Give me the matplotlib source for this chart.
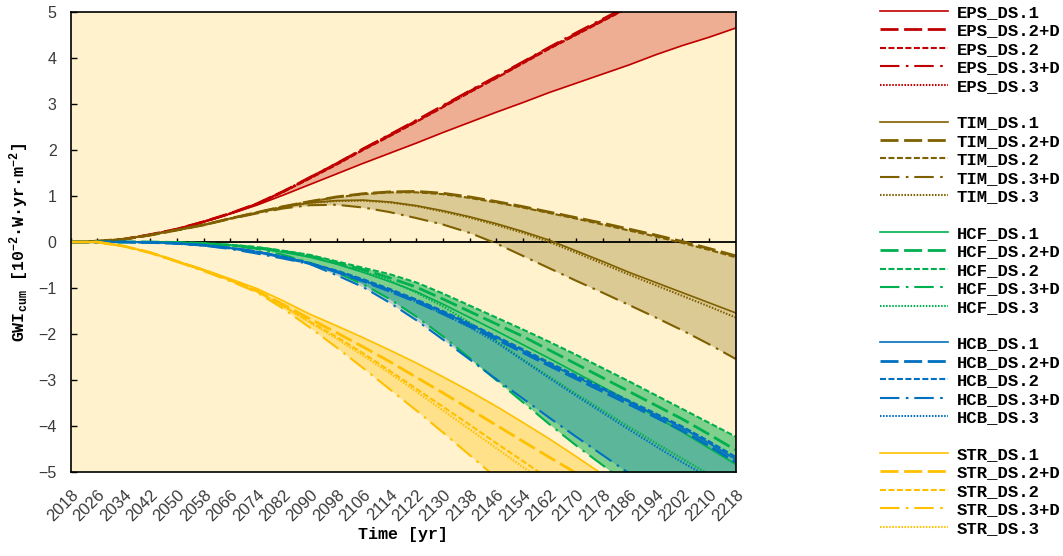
import numpy as np
import matplotlib
matplotlib.use('Agg')
import matplotlib.pyplot as plt
from matplotlib.lines import Line2D
from matplotlib.font_manager import FontProperties

plt.rcParams['lines.scale_dashes'] = False
plt.rcParams['mathtext.fontset'] = 'custom'
plt.rcParams['mathtext.rm'] = 'Liberation Mono:bold'
plt.rcParams['mathtext.it'] = 'Liberation Mono:bold'
plt.rcParams['mathtext.bf'] = 'Liberation Mono:bold'

# ---------------- data ----------------
years = [2018, 2026, 2034, 2042, 2050, 2058, 2066, 2074, 2082, 2090, 2098, 2106, 2114,
         2122, 2130, 2138, 2146, 2154, 2162, 2170, 2178, 2186, 2194, 2202, 2210, 2218]

variants = ['DS.1', 'DS.2+D', 'DS.2', 'DS.3+D', 'DS.3']

eps_ds1  = [0, 0, 0.06, 0.16, 0.28, 0.43, 0.61, 0.80, 1.02, 1.25, 1.48, 1.71, 1.93, 2.15, 2.38, 2.60, 2.82, 3.03, 3.25, 3.45, 3.65, 3.85, 4.07, 4.27, 4.45, 4.65]
eps_ds2d = [0, 0, 0.06, 0.16, 0.28, 0.44, 0.62, 0.83, 1.10, 1.40, 1.70, 2.02, 2.32, 2.63, 2.95, 3.27, 3.58, 3.90, 4.22, 4.52, 4.82, 5.12, 5.42, 5.72, 6.02, 6.30]
eps_ds2  = [0, 0, 0.06, 0.16, 0.28, 0.44, 0.62, 0.82, 1.09, 1.38, 1.68, 2.00, 2.30, 2.61, 2.93, 3.25, 3.56, 3.88, 4.20, 4.50, 4.80, 5.10, 5.40, 5.70, 6.00, 6.28]
eps_ds3d = [0, 0, 0.06, 0.16, 0.28, 0.44, 0.62, 0.83, 1.10, 1.41, 1.71, 2.03, 2.34, 2.65, 2.97, 3.29, 3.60, 3.92, 4.24, 4.55, 4.85, 5.15, 5.45, 5.75, 6.05, 6.33]
eps_ds3  = [0, 0, 0.06, 0.16, 0.28, 0.44, 0.62, 0.82, 1.09, 1.39, 1.69, 2.01, 2.31, 2.62, 2.94, 3.26, 3.57, 3.89, 4.21, 4.51, 4.81, 5.11, 5.41, 5.71, 6.01, 6.29]

tim_ds1  = [0, 0.02, 0.06, 0.15, 0.26, 0.37, 0.51, 0.64, 0.76, 0.85, 0.90, 0.91, 0.87, 0.79, 0.68, 0.55, 0.40, 0.23, 0.04, -0.19, -0.42, -0.66, -0.88, -1.10, -1.32, -1.54]
tim_ds2d = [0, 0.02, 0.06, 0.15, 0.26, 0.37, 0.51, 0.64, 0.77, 0.88, 0.98, 1.05, 1.09, 1.10, 1.06, 0.98, 0.88, 0.77, 0.65, 0.53, 0.41, 0.28, 0.15, 0.01, -0.14, -0.30]
tim_ds2  = [0, 0.02, 0.06, 0.15, 0.26, 0.37, 0.51, 0.64, 0.77, 0.88, 0.97, 1.04, 1.08, 1.08, 1.04, 0.96, 0.86, 0.75, 0.63, 0.51, 0.38, 0.25, 0.12, -0.02, -0.17, -0.33]
tim_ds3d = [0, 0.02, 0.06, 0.15, 0.26, 0.37, 0.50, 0.62, 0.73, 0.80, 0.81, 0.75, 0.65, 0.52, 0.38, 0.20, -0.03, -0.30, -0.57, -0.84, -1.10, -1.37, -1.64, -1.92, -2.22, -2.54]
tim_ds3  = [0, 0.02, 0.06, 0.15, 0.26, 0.37, 0.51, 0.64, 0.76, 0.85, 0.89, 0.90, 0.86, 0.78, 0.66, 0.53, 0.37, 0.20, 0.00, -0.23, -0.47, -0.71, -0.94, -1.17, -1.40, -1.64]

hcf_ds1  = [0, 0, 0, 0, -0.01, -0.03, -0.07, -0.13, -0.22, -0.33, -0.48, -0.66, -0.86, -1.08, -1.35, -1.64, -1.93, -2.23, -2.53, -2.84, -3.15, -3.46, -3.80, -4.13, -4.48, -4.83]
hcf_ds2d = [0, 0, 0, 0, -0.01, -0.03, -0.07, -0.12, -0.20, -0.30, -0.45, -0.60, -0.78, -0.98, -1.24, -1.51, -1.78, -2.05, -2.35, -2.65, -2.95, -3.25, -3.55, -3.85, -4.18, -4.52]
hcf_ds2  = [0, 0, 0, 0, -0.01, -0.03, -0.06, -0.11, -0.19, -0.28, -0.42, -0.56, -0.70, -0.88, -1.12, -1.38, -1.64, -1.90, -2.17, -2.45, -2.74, -3.03, -3.33, -3.63, -3.93, -4.23]
hcf_ds3d = [0, 0, 0, 0, -0.01, -0.04, -0.08, -0.15, -0.28, -0.45, -0.66, -0.92, -1.24, -1.62, -2.05, -2.52, -3.00, -3.48, -3.96, -4.42, -4.85, -5.30, -5.75, -6.20, -6.65, -7.10]
hcf_ds3  = [0, 0, 0, 0, -0.01, -0.03, -0.07, -0.13, -0.21, -0.32, -0.47, -0.64, -0.84, -1.10, -1.40, -1.75, -2.15, -2.55, -2.93, -3.30, -3.66, -4.02, -4.37, -4.71, -5.05, -5.40]

hcb_ds1  = [0, 0, 0, -0.01, -0.03, -0.07, -0.13, -0.21, -0.32, -0.46, -0.63, -0.83, -1.04, -1.27, -1.52, -1.79, -2.07, -2.36, -2.65, -2.93, -3.20, -3.48, -3.76, -4.04, -4.37, -4.72]
hcb_ds2d = [0, 0, 0, -0.01, -0.03, -0.07, -0.13, -0.21, -0.33, -0.47, -0.65, -0.85, -1.07, -1.30, -1.56, -1.83, -2.11, -2.40, -2.69, -2.97, -3.25, -3.53, -3.81, -4.10, -4.43, -4.78]
hcb_ds2  = [0, 0, 0, -0.01, -0.03, -0.07, -0.13, -0.21, -0.32, -0.46, -0.62, -0.81, -1.02, -1.25, -1.50, -1.77, -2.05, -2.33, -2.62, -2.90, -3.17, -3.45, -3.73, -4.01, -4.33, -4.67]
hcb_ds3d = [0, 0, 0, -0.01, -0.03, -0.08, -0.15, -0.25, -0.36, -0.48, -0.72, -0.98, -1.32, -1.70, -2.12, -2.55, -2.98, -3.40, -3.82, -4.23, -4.63, -5.03, -5.43, -5.83, -6.23, -6.63]
hcb_ds3  = [0, 0, 0, -0.01, -0.03, -0.07, -0.13, -0.21, -0.33, -0.47, -0.64, -0.84, -1.06, -1.30, -1.56, -1.85, -2.18, -2.57, -2.96, -3.34, -3.71, -4.08, -4.44, -4.79, -5.12, -5.46]

str_ds1  = [0, 0, -0.09, -0.23, -0.42, -0.60, -0.80, -1.01, -1.28, -1.57, -1.82, -2.08, -2.35, -2.63, -2.93, -3.24, -3.57, -3.92, -4.28, -4.66, -5.05, -5.44, -5.83, -6.22, -6.61, -7.00]
str_ds2d = [0, 0, -0.09, -0.23, -0.42, -0.61, -0.82, -1.06, -1.36, -1.67, -1.97, -2.28, -2.60, -2.94, -3.28, -3.63, -3.98, -4.33, -4.68, -5.02, -5.36, -5.70, -6.04, -6.38, -6.72, -7.06]
str_ds2  = [0, 0, -0.09, -0.23, -0.42, -0.61, -0.83, -1.07, -1.39, -1.73, -2.06, -2.42, -2.80, -3.19, -3.58, -3.97, -4.37, -4.76, -5.15, -5.54, -5.93, -6.32, -6.71, -7.10, -7.49, -7.88]
str_ds3d = [0, 0, -0.09, -0.24, -0.43, -0.63, -0.85, -1.09, -1.45, -1.86, -2.29, -2.74, -3.20, -3.66, -4.14, -4.63, -5.12, -5.60, -6.08, -6.56, -7.04, -7.52, -8.00, -8.48, -8.96, -9.44]
str_ds3  = [0, 0, -0.09, -0.23, -0.42, -0.61, -0.83, -1.07, -1.40, -1.75, -2.10, -2.47, -2.85, -3.25, -3.66, -4.07, -4.48, -4.89, -5.30, -5.71, -6.12, -6.53, -6.94, -7.35, -7.76, -8.17]

groups = ['EPS', 'TIM', 'HCF', 'HCB', 'STR']
group_series = {
    'EPS': [eps_ds1, eps_ds2d, eps_ds2, eps_ds3d, eps_ds3],
    'TIM': [tim_ds1, tim_ds2d, tim_ds2, tim_ds3d, tim_ds3],
    'HCF': [hcf_ds1, hcf_ds2d, hcf_ds2, hcf_ds3d, hcf_ds3],
    'HCB': [hcb_ds1, hcb_ds2d, hcb_ds2, hcb_ds3d, hcb_ds3],
    'STR': [str_ds1, str_ds2d, str_ds2, str_ds3d, str_ds3],
}

xtick_years = years
ytick_vals = [-5, -4, -3, -2, -1, 0, 1, 2, 3, 4, 5]

# ---------------- styles ----------------
colors = {'EPS': '#C00000', 'TIM': '#7F6000', 'HCF': '#00B050', 'HCB': '#0070C0', 'STR': '#FFC000'}
fill_alpha = {'EPS': 0.28, 'TIM': 0.27, 'HCF': 0.5, 'HCB': 0.27, 'STR': 0.32}
line_styles = [
    dict(linestyle='-', linewidth=1.2),
    dict(linestyle=(0, (13, 4)), linewidth=2.0),
    dict(linestyle=(0, (4.3, 1.8)), linewidth=1.5),
    dict(linestyle=(0, (14, 4.6, 1.9, 4.2)), linewidth=1.5),
    dict(linestyle=(0, (1.1, 1.1)), linewidth=1.5),
]
bg = '#FFF2CC'

# ---------------- figure ----------------
fig = plt.figure(figsize=(10.63, 5.56), dpi=100)
ax = fig.add_axes([70.5 / 1063, 1 - 472 / 556, 665 / 1063, 460 / 556])
ax.set_facecolor(bg)

x = np.array(years)
for g in groups:
    arr = np.array(group_series[g])
    ax.fill_between(x, arr.min(axis=0), arr.max(axis=0), color=colors[g],
                    alpha=fill_alpha[g], linewidth=0, zorder=1)

ax.axhline(0, color='black', linewidth=1.3, zorder=1.5)
ax.vlines(xtick_years, 0, 0.08, color='black', linewidth=1.0, zorder=1.5)

handles = []
for gi, g in enumerate(groups):
    for series, v, st in zip(group_series[g], variants, line_styles):
        ax.plot(x, series, color=colors[g], zorder=2, **st)
        handles.append(Line2D([], [], color=colors[g], label=f'{g}_{v}', **st))
    if gi < len(groups) - 1:
        handles.append(Line2D([], [], color='none', label=' '))

ax.set_xlim(2018, 2218)
ax.set_ylim(-5, 5)
ax.set_xticks(xtick_years)
ax.set_xticklabels([str(y) for y in xtick_years], rotation=45, ha='right',
                   va='top', rotation_mode='anchor')
ax.set_yticks(ytick_vals)
for lab in ax.get_xticklabels():
    lab.set_fontfamily('Liberation Sans')
    lab.set_fontsize(12)
    lab.set_color('#3a3a3a')
for lab in ax.get_yticklabels():
    lab.set_fontfamily('Liberation Sans')
    lab.set_fontsize(11.5)
    lab.set_color('#3a3a3a')
ax.tick_params(axis='x', length=0, pad=11)
ax.tick_params(axis='y', direction='in', length=4, width=1.0, pad=10)
for s in ax.spines.values():
    s.set_linewidth(1.2)
    s.set_color('black')

label_font = dict(family='Liberation Mono', weight='bold', size=12)
fig.text(403 / 1063, 1 - 535 / 556, 'Time [yr]', ha='center', va='center', **label_font)
fig.text(19 / 1063, 1 - 242 / 556,
         r'$\mathrm{GWI_{cum}}$ [10$^{-2}$·W·yr·m$^{-2}$]',
         ha='center', va='center', rotation=90, **label_font)

leg = fig.legend(handles=handles, loc='upper left',
                 bbox_to_anchor=(880 / 1063, 1 - 5 / 556),
                 frameon=False, borderpad=0, borderaxespad=0,
                 handlelength=3.95, handletextpad=0.5, labelspacing=0.195,
                 prop=FontProperties(family='Liberation Mono', weight='bold', size=12.4))

fig.savefig('out.png', dpi=100)
